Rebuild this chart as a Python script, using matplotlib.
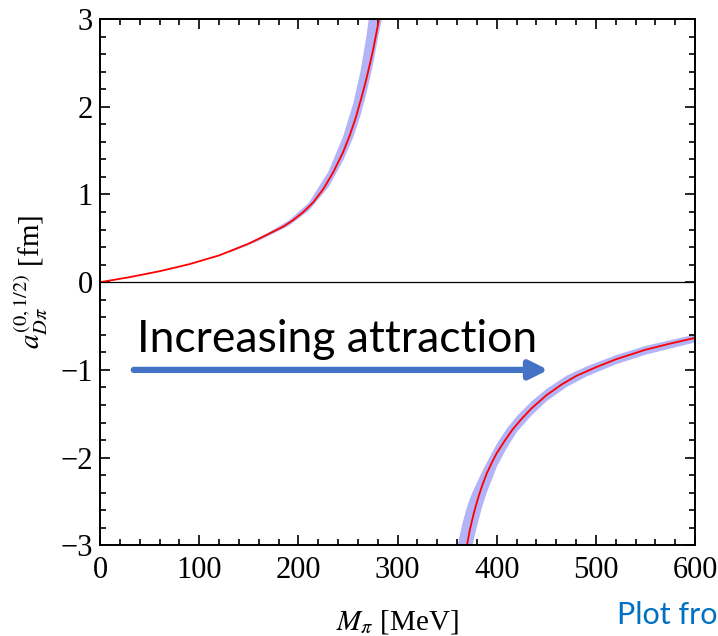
import matplotlib.pyplot as plt

plt.rcParams['font.family'] = ['Liberation Serif', 'DejaVu Serif']
plt.rcParams['mathtext.fontset'] = 'stix'

# rama superior (curva central)
m_up = [0, 30, 60, 90, 120, 150, 170, 185, 195, 205, 215, 225, 235, 245, 252, 258, 264, 268, 272, 275, 278, 280, 282]
a_up = [0, 0.058, 0.125, 0.205, 0.305, 0.44, 0.55, 0.635, 0.71, 0.80, 0.91, 1.06, 1.25, 1.48, 1.68, 1.88, 2.12, 2.29, 2.48, 2.63, 2.80, 2.92, 3.05]

# banda de error rama superior
band_up_m = [130, 160, 190, 210, 230, 245, 255, 262, 268, 271, 275, 280, 284]
band_up_lo = [0.34, 0.48, 0.65, 0.82, 1.09, 1.40, 1.66, 1.90, 2.15, 2.30, 2.50, 2.80, 3.02]
band_up_hi = [0.36, 0.51, 0.71, 0.91, 1.27, 1.68, 2.05, 2.40, 2.80, 3.05, 3.6, 4.5, 5.0]

# rama inferior (curva central)
m_dn = [370, 373, 377, 381, 385, 390, 395, 400, 408, 416, 425, 435, 450, 465, 480, 500, 520, 550, 575, 600]
a_dn = [-3.0, -2.82, -2.63, -2.47, -2.33, -2.18, -2.06, -1.95, -1.81, -1.68, -1.56, -1.44, -1.29, -1.17, -1.07, -0.97, -0.88, -0.77, -0.70, -0.635]

# banda de error rama inferior
band_dn_m = [360, 365, 370, 375, 380, 385, 390, 400, 410, 420, 435, 450, 470, 490, 520, 550, 600]
band_dn_hi = [-3.0, -2.74, -2.54, -2.39, -2.27, -2.15, -2.04, -1.83, -1.66, -1.52, -1.35, -1.21, -1.06, -0.955, -0.825, -0.72, -0.59]
band_dn_lo = [-4.5, -4.0, -3.4, -3.0, -2.76, -2.55, -2.38, -2.09, -1.88, -1.70, -1.51, -1.35, -1.19, -1.07, -0.93, -0.82, -0.68]

band_color = '#b3b3f7'

fig = plt.figure(figsize=(7.18, 6.36), dpi=100)
ax = fig.add_axes([0.1393, 0.1426, 0.8287, 0.8274])

ax.fill_between(band_up_m, band_up_lo, band_up_hi, color=band_color, lw=0)
ax.fill_between(band_dn_m, band_dn_lo, band_dn_hi, color=band_color, lw=0)
ax.plot(m_up, a_up, color='red', lw=1.3)
ax.plot(m_dn, a_dn, color='red', lw=1.3)
ax.axhline(0, color='black', lw=0.9)

ax.set_xlim(0, 600)
ax.set_ylim(-3, 3)
ax.set_xticks([0, 100, 200, 300, 400, 500, 600])
ax.set_xticks(range(0, 601, 20), minor=True)
ax.set_yticks([-3, -2, -1, 0, 1, 2, 3])
ax.set_yticks([i / 5 for i in range(-15, 16)], minor=True)
ax.set_yticklabels(['\u22123', '\u22122', '\u22121', '0', '1', '2', '3'])
ax.tick_params(which='both', direction='in', top=True, right=True, labelsize=22, width=1.2)
ax.tick_params(which='major', length=7)
ax.tick_params(which='minor', length=4.5)
ax.tick_params(axis='x', pad=8)
ax.tick_params(axis='y', pad=5)
for s in ax.spines.values():
    s.set_linewidth(1.4)

ax.set_xlabel(r'$M_\pi$ [MeV]', fontsize=21, labelpad=16)
ax.set_ylabel(r'$a_{D\pi}^{(0,1/2)}$ [fm]', fontsize=21, labelpad=8)

# flecha y texto
ax.annotate('', xy=(452, -1.0), xytext=(34, -1.0),
            arrowprops=dict(arrowstyle='-|>,head_length=1.1,head_width=0.55',
                            color='#4472C4', lw=4.5, shrinkA=0, shrinkB=0))
ax.text(37, -0.80, 'Increasing attraction', fontsize=32, family=['Lato', 'DejaVu Sans'],
        color='black', va='baseline', ha='left')

fig.text(617 / 718, 12 / 636, 'Plot fro', fontsize=22, color='#0070C0',
         family=['Lato', 'DejaVu Sans'], va='baseline', ha='left')

fig.savefig('out.png', dpi=100)
